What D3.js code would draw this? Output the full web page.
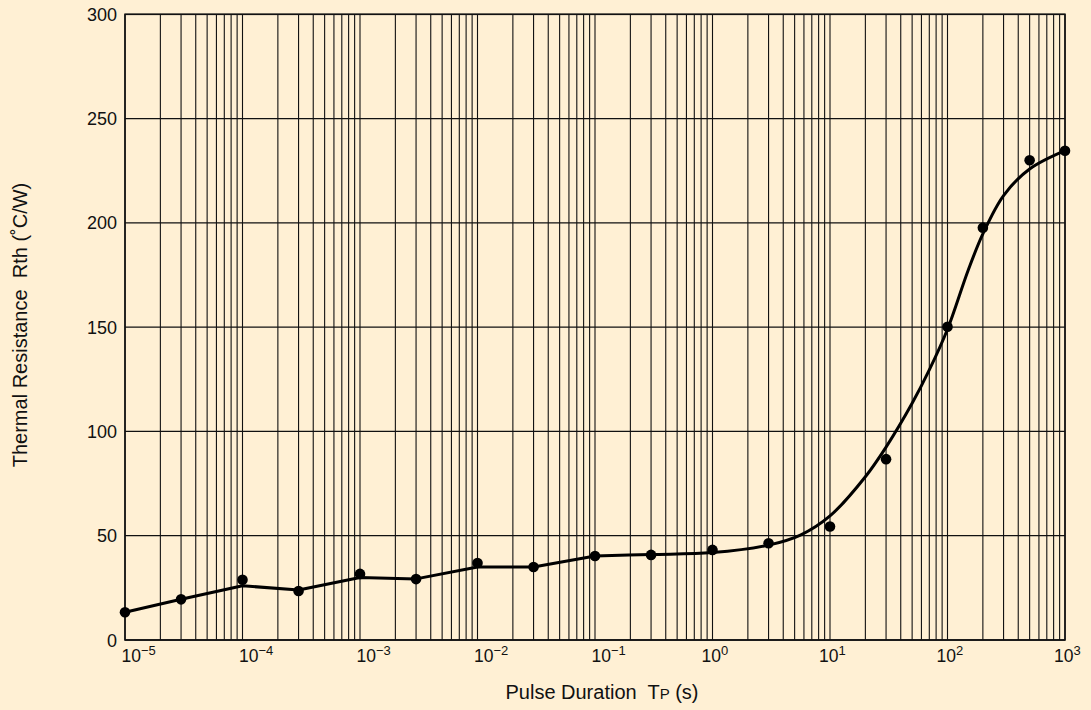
<!DOCTYPE html>
<html>
<head>
<meta charset="utf-8">
<script src="https://cdn.jsdelivr.net/npm/d3@7"></script>
<style>
  html, body { margin: 0; padding: 0; background: #FFF0D4; }
  svg { display: block; font-family: "Liberation Sans", Arial, Helvetica, sans-serif; }
  text { fill: #111; white-space: pre; }
</style>
</head>
<body>
<svg id="chart" width="1091" height="710"></svg>
<script>
// Measured thermal resistance at each pulse duration (s → °C/W)
const pulseTimes  = [1e-5, 3e-5, 1e-4, 3e-4, 1e-3, 3e-3, 1e-2, 3e-2, 1e-1, 3e-1, 1, 3, 10, 30, 100, 200, 500, 1000];
const measuredRth = [13.3, 19.5, 28.9, 23.5, 31.7, 29.2, 36.9, 35.0, 40.3, 40.8, 43.2, 46.4, 54.4, 86.7, 150.2, 197.7, 230.0, 234.6];

// Characteristic curve: straight segments over the short-pulse range …
const shortFitTimes = [1e-5, 3e-5, 1e-4, 3e-4, 1e-3, 3e-3, 1e-2, 3e-2, 1e-1];
const shortFitRth   = [13.3, 19.5, 26.0, 24.0, 30.0, 29.3, 35.0, 35.0, 40.3];
// … and a smooth rise for long pulses
const longFitTimes = [1e-1, 3e-1, 1, 3, 5.6, 10, 20, 30, 50, 70, 100, 150, 200, 300, 500, 1000];
const longFitRth   = [40.3, 41.0, 41.9, 45.5, 50.3, 59.5, 78.3, 92.5, 113.5, 129.5, 149.0, 177.3, 194.7, 213.1, 225.8, 234.6];

// Axis ticks
const yTicks = [0, 50, 100, 150, 200, 250, 300];
const xExponents = [-5, -4, -3, -2, -1, 0, 1, 2, 3];
const gridMantissas = [1, 2, 3, 4, 5, 6, 7, 8, 9];

const svg = d3.select("#chart");

const plot = { left: 125, right: 1065, top: 14.3, bottom: 640 };

const x = d3.scaleLog().domain([1e-5, 1e3]).range([plot.left, plot.right]);
const y = d3.scaleLinear().domain([0, 300]).range([plot.bottom, plot.top]);

// Log-paper vertical grid: every mantissa in every decade
const gridTimes = [];
xExponents.slice(0, -1).forEach(e => gridMantissas.forEach(m => gridTimes.push(m * Math.pow(10, e))));
gridTimes.push(1e3);

svg.append("g")
  .selectAll("line")
  .data(gridTimes)
  .join("line")
  .attr("x1", d => x(d)).attr("x2", d => x(d))
  .attr("y1", plot.top).attr("y2", plot.bottom)
  .attr("stroke", "#111")
  .attr("stroke-width", 1.1);

// Horizontal grid
svg.append("g")
  .selectAll("line")
  .data(yTicks)
  .join("line")
  .attr("x1", plot.left).attr("x2", plot.right)
  .attr("y1", d => y(d)).attr("y2", d => y(d))
  .attr("stroke", "#111")
  .attr("stroke-width", 1.3);

// Frame
svg.append("rect")
  .attr("x", plot.left).attr("y", plot.top)
  .attr("width", plot.right - plot.left).attr("height", plot.bottom - plot.top)
  .attr("fill", "none").attr("stroke", "#111").attr("stroke-width", 1.6);

// Y axis tick labels
svg.append("g")
  .selectAll("text")
  .data(yTicks)
  .join("text")
  .attr("x", plot.left - 8)
  .attr("y", d => y(d) + 6.5)
  .attr("text-anchor", "end")
  .attr("font-size", 18)
  .text(d => d);

// X axis tick labels: 10 with superscript exponent
const xl = svg.append("g")
  .selectAll("text")
  .data(xExponents)
  .join("text")
  .attr("x", d => x(Math.pow(10, d)) + (d < 0 ? -3.5 : -11))
  .attr("y", 661.5)
  .attr("font-size", 17.5);
xl.append("tspan").text("10");
xl.append("tspan")
  .attr("dy", -7)
  .attr("font-size", 13)
  .text(d => (d < 0 ? "\u2212" + Math.abs(d) : String(d)));

// Axis titles
const xt = svg.append("text")
  .attr("x", 602)
  .attr("y", 699)
  .attr("text-anchor", "middle")
  .attr("font-size", 20);
xt.append("tspan").text("Pulse Duration  T");
xt.append("tspan").attr("font-size", 15).text("P");
xt.append("tspan").text(" (s)");

svg.append("text")
  .attr("transform", "translate(27,325) rotate(-90)")
  .attr("text-anchor", "middle")
  .attr("font-size", 20)
  .text("Thermal Resistance  Rth (\u02DAC/W)");

// Fitted curve
const toXY = (ts, vs) => ts.map((t, i) => [t, vs[i]]);

svg.append("path")
  .datum(toXY(shortFitTimes, shortFitRth))
  .attr("fill", "none")
  .attr("stroke", "#000")
  .attr("stroke-width", 3)
  .attr("stroke-linejoin", "round")
  .attr("stroke-linecap", "round")
  .attr("d", d3.line().x(d => x(d[0])).y(d => y(d[1])).curve(d3.curveLinear));

svg.append("path")
  .datum(toXY(longFitTimes, longFitRth))
  .attr("fill", "none")
  .attr("stroke", "#000")
  .attr("stroke-width", 3)
  .attr("stroke-linejoin", "round")
  .attr("stroke-linecap", "round")
  .attr("d", d3.line().x(d => x(d[0])).y(d => y(d[1])).curve(d3.curveCatmullRom.alpha(0.5)));

// Measured points
svg.append("g")
  .selectAll("circle")
  .data(toXY(pulseTimes, measuredRth))
  .join("circle")
  .attr("cx", d => x(d[0]))
  .attr("cy", d => y(d[1]))
  .attr("r", 5.3)
  .attr("fill", "#000");
</script>
</body>
</html>
